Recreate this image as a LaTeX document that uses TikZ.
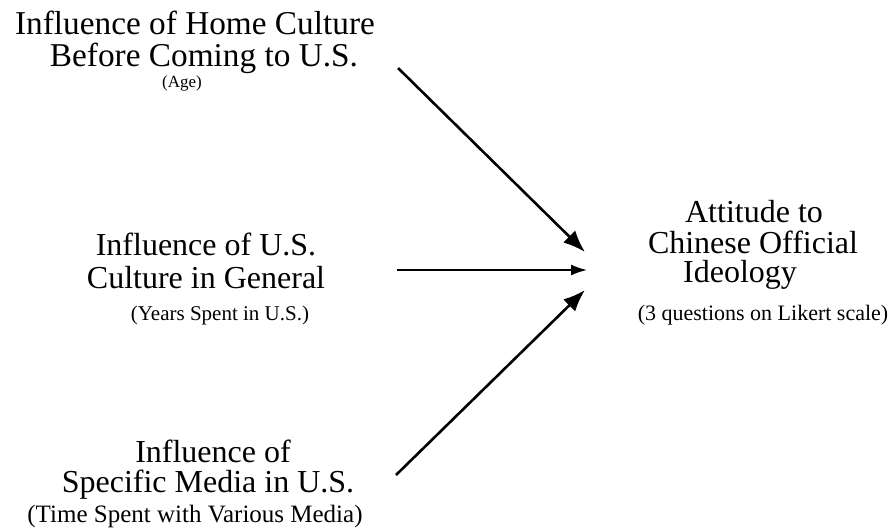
\documentclass[tikz,border=0pt]{standalone}
\usepackage{fontspec}
\setmainfont{Liberation Serif}
\usetikzlibrary{arrows.meta}
\tikzset{
  big/.style={inner sep=0pt, anchor=base, font=\fontsize{32}{33}\selectfont},
  bigger/.style={big, font=\fontsize{33.3}{34}\selectfont},
  small/.style={inner sep=0pt, anchor=base, font=\fontsize{21}{22}\selectfont},
  conn/.style={line width=2.6pt, -{Latex[length=22pt,width=17pt]}},
  thinconn/.style={line width=1.8pt, -{Latex[length=16pt,width=11pt]}}
}
\begin{document}
\begin{tikzpicture}[x=1pt,y=-1pt]
\useasboundingbox (0,0) rectangle (890,531);
% top source
\node[bigger] (h1) at (195,34) {Influence of Home Culture};
\node[bigger] (h2) at (204,66) {Before Coming to U.S.};
\node[small, font=\fontsize{17}{18}\selectfont] (h3) at (182,87) {(Age)};
% middle source
\node[big] (u1) at (206,255) {Influence of U.S.};
\node[big] (u2) at (206,288) {Culture in General};
\node[small] (u3) at (220,320) {(Years Spent in U.S.)};
% bottom source
\node[big] (m1) at (213,462) {Influence of};
\node[big] (m2) at (208,492) {Specific Media in U.S.};
\node[small, font=\fontsize{25}{26}\selectfont] (m3) at (195,522) {(Time Spent with Various Media)};
% target
\node[big] (t1) at (754,222) {Attitude to};
\node[big] (t2) at (753,253) {Chinese Official};
\node[big] (t3) at (740,282) {Ideology};
\node[small, font=\fontsize{22}{23}\selectfont] (t4) at (763,320) {(3 questions on Likert scale)};
% arrow endpoints
\coordinate (sA) at (398,68);
\coordinate (eA) at (585,252);
\coordinate (sB) at (397,270);
\coordinate (eB) at (587,270);
\coordinate (sC) at (396,475);
\coordinate (eC) at (585,290);
\draw[conn] (sA) -- (eA);
\draw[thinconn] (sB) -- (eB);
\draw[conn] (sC) -- (eC);
\end{tikzpicture}
\end{document}
